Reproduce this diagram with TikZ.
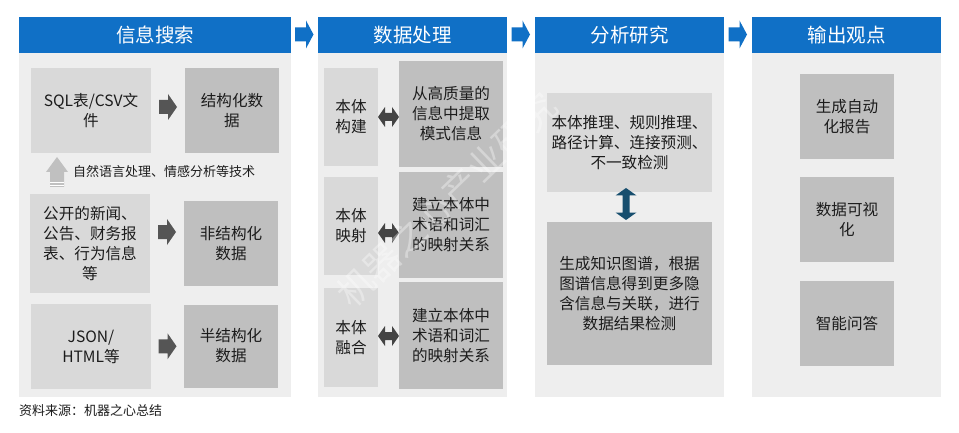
\documentclass[tikz,border=0pt]{standalone}
\usepackage{fontspec}
\setmainfont{Noto Sans CJK SC}
\usetikzlibrary{calc}
\definecolor{hblue}{RGB}{16,112,198}
\definecolor{panelg}{RGB}{238,238,238}
\definecolor{lboxg}{RGB}{217,217,217}
\definecolor{dboxg}{RGB}{191,191,191}
\definecolor{arrg}{RGB}{85,85,85}
\definecolor{arrd}{RGB}{68,68,68}
\definecolor{uparr}{RGB}{192,192,192}
\definecolor{teal}{RGB}{23,78,110}
\definecolor{txt}{RGB}{28,28,28}
\begin{document}
\begin{tikzpicture}[x=1pt,y=-1pt,
  hdr/.style={fill=hblue,text=white,inner sep=0pt,font=\fontsize{19.5}{23}\selectfont,minimum height=36pt},
  bx/.style={inner sep=0pt,align=center,text=txt,font=\fontsize{15.6}{20}\selectfont},
  lbox/.style={bx,fill=lboxg},
  dbox/.style={bx,fill=dboxg},
  small/.style={inner sep=0pt,text=txt,font=\fontsize{13}{16}\selectfont}
]
\useasboundingbox[fill=white] (0,0) rectangle (959,433);

% panels
\fill[panelg] (19,53) rectangle (291,397);
\fill[panelg] (318,53) rectangle (507,397);
\fill[panelg] (535,53) rectangle (724,397);
\fill[panelg] (752,53) rectangle (941,397);

% headers
\node[hdr,minimum width=272pt] (h1) at (155,35) {信息搜索};
\node[hdr,minimum width=189pt] (h2) at (412.5,35) {数据处理};
\node[hdr,minimum width=189pt] (h3) at (629.5,35) {分析研究};
\node[hdr,minimum width=189pt] (h4) at (846.5,35) {输出观点};

% blue arrows between headers
\foreach \a/\b in {h1/h2,h2/h3,h3/h4}{
  \fill[hblue,shift={($(\a.east)!0.5!(\b.west)+(0,-0.5)$)}]
    (-9.5,-7) -- (1.5,-7) -- (1.5,-14) -- (9,0) -- (1.5,14) -- (1.5,7) -- (-9.5,7) -- cycle;
}

% column 1
\node[lbox,minimum width=120pt,minimum height=85pt] (sql) at (91,110.5) {SQL表/CSV文\\件};
\node[dbox,minimum width=94pt,minimum height=85pt] (jg) at (232,110.5) {结构化数\\据};
\node[lbox,minimum width=120pt,minimum height=99pt] (gk) at (90,243.5) {公开的新闻、\\公告、财务报\\表、行为信息\\等};
\node[dbox,minimum width=94pt,minimum height=85pt] (fjg) at (231,243.5) {非结构化\\数据};
\node[lbox,minimum width=120pt,minimum height=85pt] (json) at (91,346.5) {JSON/\\HTML等};
\node[dbox,minimum width=94pt,minimum height=83pt] (bjg) at (231,346) {半结构化\\数据};

\foreach \a/\b/\dy in {sql/jg/-3.5,gk/fjg/-11.5,json/bjg/0}{
  \fill[arrg,shift={($(\a.east)!0.5!(\b.west)+(0,\dy)$)}]
    (-9,-7) -- (0,-7) -- (0,-13) -- (9,0) -- (0,13) -- (0,7) -- (-9,7) -- cycle;
}

% up arrow and caption
\fill[uparr] (57,157) -- (68,172) -- (64,172) -- (64,187) -- (50,187) -- (50,172) -- (46,172) -- cycle;
\draw[white,line width=0.8pt] (50,182.5) -- (64,182.5) (50,185) -- (64,185);
\node[small,anchor=west] (cap) at (73,172) {自然语言处理、情感分析等技术};

% column 2
\node[lbox,minimum width=54pt,minimum height=98pt] (gj) at (351,117) {本体\\构建};
\node[dbox,minimum width=104pt,minimum height=106pt] (gjt) at (451,114) {从高质量的\\信息中提取\\模式信息};
\node[lbox,minimum width=54pt,minimum height=98pt] (ys) at (351,226) {本体\\映射};
\node[dbox,minimum width=104pt,minimum height=106pt] (yst) at (451,225) {建立本体中\\术语和词汇\\的映射关系};
\node[lbox,minimum width=54pt,minimum height=99pt] (rh) at (351,337.5) {本体\\融合};
\node[dbox,minimum width=104pt,minimum height=107pt] (rht) at (451,335.5) {建立本体中\\术语和词汇\\的映射关系};

\foreach \a/\b/\dy in {gj/gjt/1.5,ys/yst/7.5,rh/rht/-0.5}{
  \fill[arrd,shift={($(\a.east)!0.5!(\b.west)+(0,\dy)$)}]
    (-10.5,0) -- (-3.5,-10) -- (-3.5,-4) -- (3.5,-4) -- (3.5,-10) -- (10.5,0) -- (3.5,10) -- (3.5,4) -- (-3.5,4) -- (-3.5,10) -- cycle;
}

% column 3
\node[lbox,minimum width=165pt,minimum height=99pt] (tl) at (629.5,142.5) {本体推理、规则推理、\\路径计算、连接预测、\\不一致检测};
\node[dbox,minimum width=165pt,minimum height=143pt] (zs) at (629.5,293.5) {生成知识图谱，根据\\图谱信息得到更多隐\\含信息与关联，进行\\数据结果检测};
\fill[teal,shift={($(tl.south)!0.5!(zs.north)+(-3.5,-3)$)}]
  (0,-16) -- (10.5,-8.5) -- (3.5,-8.5) -- (3.5,8.5) -- (10.5,8.5) -- (0,16) -- (-10.5,8.5) -- (-3.5,8.5) -- (-3.5,-8.5) -- (-10.5,-8.5) -- cycle;

% column 4
\node[dbox,minimum width=94pt,minimum height=85pt] (r1) at (847,116.5) {生成自动\\化报告};
\node[dbox,minimum width=94pt,minimum height=85pt] (r2) at (847,219.5) {数据可视\\化};
\node[dbox,minimum width=94pt,minimum height=85pt] (r3) at (847,323.5) {智能问答};

% watermark
\node[white,opacity=0.35,rotate=44,inner sep=0pt,font=\fontsize{36}{40}\selectfont] (wm) at (447,200) {机器之心产业研究};

% footer
\node[small,anchor=west] (src) at (19,411) {资料来源：机器之心总结};
\end{tikzpicture}
\end{document}
